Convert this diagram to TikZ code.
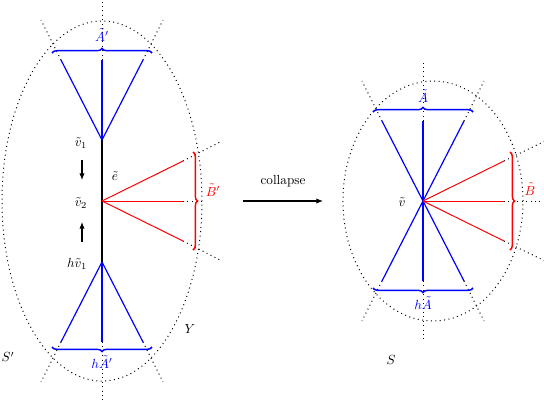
\documentclass[tikz,border=0pt]{standalone}
\usetikzlibrary{decorations.pathreplacing,arrows.meta}
\begin{document}
\begin{tikzpicture}[x=0.7576pt,y=-0.7576pt,
  bl/.style={blue,line width=0.9pt},
  rd/.style={red,line width=0.75pt},
  blk/.style={black,line width=0.9pt},
  dots/.style={line width=0.75pt,dash pattern=on 0.75pt off 2.6pt},
  brc/.style={decorate,decoration={brace,amplitude=3.5pt},line width=1.1pt},
  arr/.style={-{Latex[length=5pt,width=4pt]},line width=0.8pt},
  lab/.style={inner sep=1pt}]
\useasboundingbox (0,0) rectangle (544,402);
% ---------- left figure ----------
\coordinate (v1) at (102,140);
\coordinate (v2) at (102,201);
\coordinate (hv1) at (102,262);
\coordinate (a1) at (61,60);
\coordinate (a2) at (102,60);
\coordinate (a3) at (143,60);
\coordinate (ha1) at (61,342);
\coordinate (ha2) at (102,342);
\coordinate (ha3) at (143,342);
\coordinate (b1) at (183,161);
\coordinate (b2) at (183,201);
\coordinate (b3) at (183,241);
\coordinate (ea1) at (41,20);
\coordinate (ea2) at (102,-1);
\coordinate (ea3) at (163,20);
\coordinate (eha1) at (41,382);
\coordinate (eha2) at (102,403);
\coordinate (eha3) at (163,382);
\coordinate (eb1) at (222,141);
\coordinate (eb2) at (205,201);
\coordinate (eb3) at (222,261);
\coordinate (cL) at (102,201);
\draw[dots] (cL) ellipse [x radius=75.76pt, y radius=136.4pt];
\foreach \p/\q in {a1/ea1,a2/ea2,a3/ea3,ha1/eha1,ha2/eha2,ha3/eha3,b1/eb1,b2/eb2,b3/eb3}
  \draw[dots] (\p) -- (\q);
\draw[blk] (v1) -- (hv1);
\foreach \p in {a1,a2,a3} \draw[bl] (v1) -- (\p);
\foreach \p in {ha1,ha2,ha3} \draw[bl] (hv1) -- (\p);
\foreach \p in {b1,b2,b3} \draw[rd] (v2) -- (\p);
\draw[brc,blue] (52,53) -- (152,53);
\draw[brc,blue] (152,347) -- (52,347);
\draw[brc,red] (193,152) -- (193,250);
\node[lab,blue] (lA) at (102,35) {$\tilde{A}'$};
\node[lab,blue] (lhA) at (102,362) {$h\tilde{A}'$};
\node[lab,red] (lB) at (213,190) {$\tilde{B}'$};
\node[lab] (lv1) at (81,143) {$\tilde{v}_1$};
\node[lab] (lv2) at (81,203) {$\tilde{v}_2$};
\node[lab] (lhv1) at (77,264) {$h\tilde{v}_1$};
\node[lab] (le) at (115,176) {$\tilde{e}$};
\node[lab] (lY) at (190,329) {$Y$};
\node[lab] (lS1) at (8,357) {$S'$};
\coordinate (d1) at (82,160);
\coordinate (d2) at (82,180);
\coordinate (u1) at (82,242);
\coordinate (u2) at (82,222);
\draw[arr] (d1) -- (d2);
\draw[arr] (u1) -- (u2);
% ---------- arrow ----------
\coordinate (c1) at (243,201);
\coordinate (c2) at (323,201);
\draw[arr] (c1) -- (c2);
\node[lab] (lc) at (283,181) {collapse};
% ---------- right figure ----------
\coordinate (v) at (423,201);
\coordinate (ra1) at (382,121);
\coordinate (ra2) at (423,121);
\coordinate (ra3) at (464,121);
\coordinate (rha1) at (382,281);
\coordinate (rha2) at (423,281);
\coordinate (rha3) at (464,281);
\coordinate (rb1) at (504,161);
\coordinate (rb2) at (504,201);
\coordinate (rb3) at (504,241);
\coordinate (era1) at (362,81);
\coordinate (era2) at (423,60);
\coordinate (era3) at (484,81);
\coordinate (erha1) at (362,321);
\coordinate (erha2) at (423,341);
\coordinate (erha3) at (484,321);
\coordinate (erb1) at (545,141);
\coordinate (erb2) at (545,201);
\coordinate (erb3) at (545,261);
\coordinate (cR) at (433,201);
\draw[dots] (cR) ellipse [x radius=68.2pt, y radius=90.9pt];
\foreach \p/\q in {ra1/era1,ra2/era2,ra3/era3,rha1/erha1,rha2/erha2,rha3/erha3,rb1/erb1,rb2/erb2,rb3/erb3}
  \draw[dots] (\p) -- (\q);
\foreach \p in {ra1,ra2,ra3,rha1,rha2,rha3} \draw[bl] (v) -- (\p);
\foreach \p in {rb1,rb2,rb3} \draw[rd] (v) -- (\p);
\draw[brc,blue] (373,112) -- (473,112);
\draw[brc,blue] (473,288) -- (373,288);
\draw[brc,red] (510,152) -- (510,250);
\node[lab,blue] (rlA) at (423,96) {$\tilde{A}$};
\node[lab,blue] (rlhA) at (423,303) {$h\tilde{A}$};
\node[lab,red] (rlB) at (530,189) {$\tilde{B}$};
\node[lab] (lv) at (402,202) {$\tilde{v}$};
\node[lab] (lS) at (391,360) {$S$};
\end{tikzpicture}
\end{document}
